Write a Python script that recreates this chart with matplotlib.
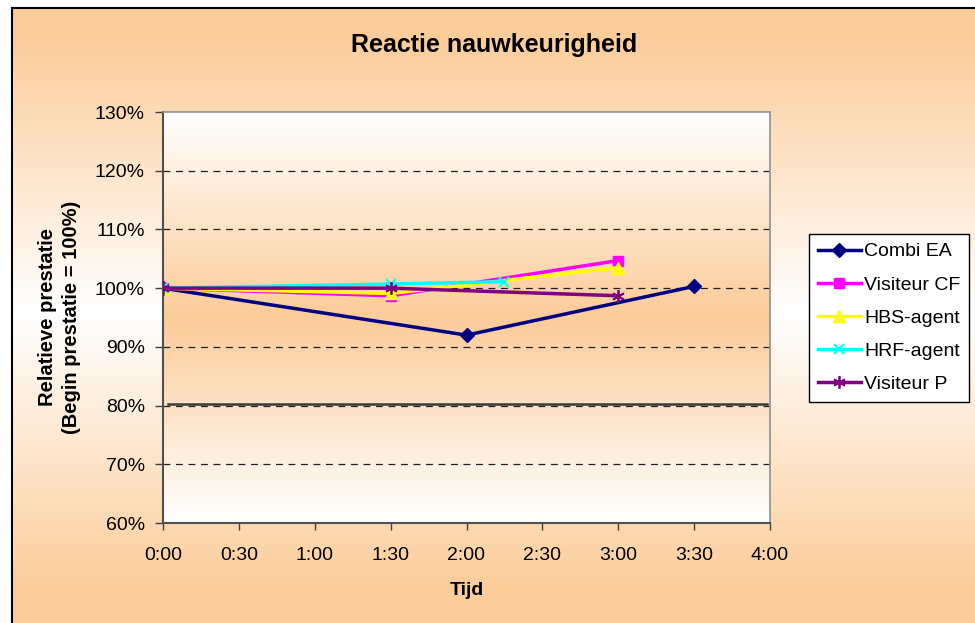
import numpy as np
import matplotlib
matplotlib.use('Agg')
import matplotlib.pyplot as plt
from matplotlib.ticker import FixedLocator, FuncFormatter

plt.rcParams['font.family'] = ['Liberation Sans', 'DejaVu Sans']

# data (time in hours, accuracy in % of starting level)
series_names = ['Combi EA', 'Visiteur CF', 'HBS-agent', 'HRF-agent', 'Visiteur P']
combi_ea_t = [0, 2.0, 3.5]
combi_ea_v = [100, 92.0, 100.3]
visiteur_cf_t = [0, 1.5, 3.0]
visiteur_cf_v = [100, 98.7, 104.7]
hbs_agent_t = [0, 1.5, 3.0]
hbs_agent_v = [100, 99.1, 103.5]
hrf_agent_t = [0, 1.5, 2.25]
hrf_agent_v = [100, 100.7, 101.1]
visiteur_p_t = [0, 1.5, 3.0]
visiteur_p_v = [100, 100.0, 98.7]
ref_level = 80.3  # solid line just above 80%

x_ticks = [0, 0.5, 1.0, 1.5, 2.0, 2.5, 3.0, 3.5, 4.0]
y_ticks = [60, 70, 80, 90, 100, 110, 120, 130]
grid_levels = [70, 80, 90, 100, 110, 120]

orange = np.array([252, 204, 153]) / 255.0
white = np.array([255, 255, 255]) / 255.0

W, H = 975, 623
fig = plt.figure(figsize=(W / 100, H / 100), dpi=100)
fig.patch.set_facecolor('white')

# chart area background: orange at top/bottom, white band in the middle
bg = fig.add_axes([12 / W, 0, 1 - 12 / W, 1 - 8 / H], zorder=-10)
rows = np.arange(H - 8)
centre = 305.0
w = np.clip(np.abs(rows - centre) / 280.0, 0, 1)[:, None]
grad = white * (1 - w) + orange * w
bg.imshow(grad[:, None, :], aspect='auto', extent=[0, 1, 0, 1])
bg.set_xlim(0, 1)
bg.set_ylim(0, 1)
bg.set_xticks([])
bg.set_yticks([])
for s in ['right', 'bottom']:
    bg.spines[s].set_visible(False)
for s in ['left', 'top']:
    bg.spines[s].set_color('black')
    bg.spines[s].set_linewidth(1.5)

ax = fig.add_axes([163 / W, 1 - 523 / H, (770 - 163) / W, (523 - 112) / H])

# plot area background: white at top/bottom, orange in the middle
n = 400
yy = np.linspace(0, 1, n)
w2 = 1 - np.abs(yy - 0.5) / 0.5
grad2 = white * (1 - w2[:, None]) + orange * w2[:, None]
ax.imshow(grad2[:, None, :], aspect='auto', extent=[0, 4, 60, 130], zorder=0, origin='lower')

for lv in grid_levels:
    ax.axhline(lv, color='#202020', lw=0.9, linestyle=(0, (5.5, 4.5)), zorder=1)
ax.plot([0.03, 3.98], [ref_level, ref_level], color='#383838', lw=1.8, zorder=1.5)

lw = 2.5
ax.plot(combi_ea_t, combi_ea_v, color='#000080', lw=lw, marker='D', ms=7, label=series_names[0], zorder=3)
ax.plot(visiteur_cf_t, visiteur_cf_v, color='#FF00FF', lw=lw, marker='s', ms=7, label=series_names[1], zorder=3)
ax.plot(hbs_agent_t, hbs_agent_v, color='#FFFF00', lw=lw, marker='^', ms=8, label=series_names[2], zorder=3)
ax.plot(hrf_agent_t, hrf_agent_v, color='#00FFFF', lw=lw, marker='x', ms=7.5, mew=1.5, label=series_names[3], zorder=3)
ax.plot(visiteur_p_t, visiteur_p_v, color='#800080', lw=lw, marker=(6, 2, 0), ms=9, mew=1.3, label=series_names[4], zorder=3)

ax.set_xlim(0, 4)
ax.set_ylim(60, 130)
ax.xaxis.set_major_locator(FixedLocator(x_ticks))
ax.yaxis.set_major_locator(FixedLocator(y_ticks))
ax.xaxis.set_major_formatter(FuncFormatter(lambda v, p: '%d:%02d' % (int(v), round((v - int(v)) * 60))))
ax.yaxis.set_major_formatter(FuncFormatter(lambda v, p: '%d%%' % v))
ax.tick_params(axis='x', direction='out', length=5, width=1, color='#404040', labelsize=14, pad=12)
ax.tick_params(axis='y', direction='out', length=6, width=1, color='#404040', labelsize=14, pad=7)

for s in ['left', 'bottom']:
    ax.spines[s].set_color('#505050')
    ax.spines[s].set_linewidth(1.5)
for s in ['top', 'right']:
    ax.spines[s].set_color('#909090')
    ax.spines[s].set_linewidth(1.2)

ax.set_xlabel('Tijd', fontsize=14, fontweight='bold', labelpad=13)
ax.set_ylabel('Relatieve prestatie\n(Begin prestatie = 100%)', fontsize=14.5, fontweight='bold', labelpad=10,
              linespacing=1.35)
fig.text(494 / W, 1 - 45 / H, 'Reactie nauwkeurigheid', fontsize=18, fontweight='bold', ha='center', va='center')

leg = ax.legend(loc='upper left', bbox_to_anchor=(809 / W, 1 - 234 / H), bbox_transform=fig.transFigure,
                borderaxespad=0, fontsize=14, frameon=True, fancybox=False, handlelength=2.2,
                handletextpad=0.2, labelspacing=0.8, borderpad=0.45)
leg.get_frame().set_edgecolor('black')
leg.get_frame().set_linewidth(1.0)
leg.get_frame().set_facecolor('white')
leg.get_frame().set_alpha(1)

fig.savefig('out.png', dpi=100)
